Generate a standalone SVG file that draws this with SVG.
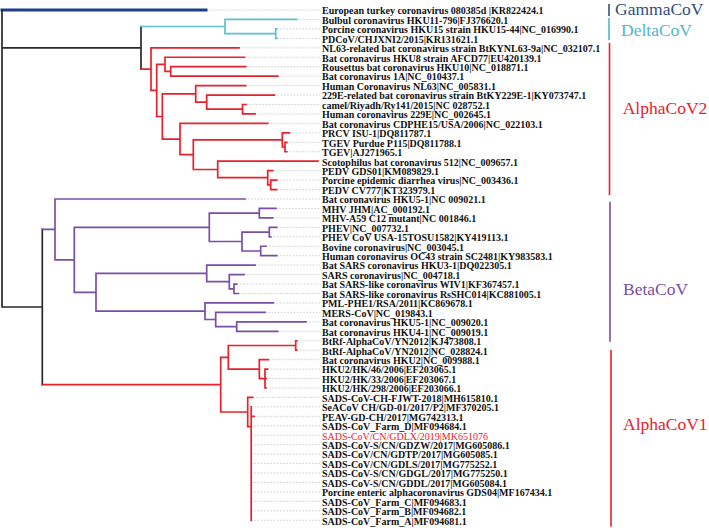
<svg xmlns="http://www.w3.org/2000/svg" width="709" height="528" viewBox="0 0 709 528">
<style>
.br{fill:none;stroke-width:1.7;stroke-linecap:square}
.blk{stroke:#2a2a2a}
.nav{stroke:#1f3d8c;stroke-width:3}
.cy{stroke:#5cc0d2}
.rd{stroke:#e8212c}
.pu{stroke:#7b4ea6}
.ld{fill:none;stroke:#c4c4c4;stroke-width:0.8;stroke-dasharray:1.6 1.6}
.lb{font-family:"Liberation Serif","Times New Roman",serif;font-size:10px;font-weight:bold;fill:#111}
.lbr{font-family:"Liberation Serif","Times New Roman",serif;font-size:10px;fill:#e8212c}
.cl{font-family:"Liberation Serif","Times New Roman",serif;font-size:17.5px}
.bar{stroke-width:1.6;fill:none}
</style>
<rect width="709" height="528" fill="#fff"/>
<g id="connectors">
<path class="ld" d="M206,10H320M296.7,19.45H320M276.7,28.9H320M276.7,38.35H320M239,47.8H320M244.3,57.25H320M245.7,66.7H320M277.7,76.15H320M245.7,85.6H320M274.3,95.05H320M246,104.5H320M255,113.95H320M267.7,123.4H320M289.3,132.85H320M286.7,142.3H320M286.7,151.75H320M272.7,170.65H320M276.7,180.1H320M276.7,189.55H320M245,199H320M276,208.45H320M272.7,217.9H320M276.7,227.35H320M270.7,236.8H320M266,246.25H320M276.7,255.7H320M255,265.15H320M244,274.6H320M236.7,284.05H320M238.3,293.5H320M273.3,302.95H320M265,312.4H320M306,321.85H320M277.7,331.3H320M296.7,340.75H320M296.7,350.2H320M268.3,359.65H320M267.5,369.1H320M266,378.55H320M266,388H320M252.7,397.45H320M251.2,406.9H320M254,416.35H320M251.2,425.8H320M251.2,435.25H320M251.2,444.7H320M251.2,454.15H320M251.2,463.6H320M251.2,473.05H320M251.2,482.5H320M251.2,491.95H320M251.2,501.4H320M251.2,510.85H320M251.2,520.3H320"/>
<path class="br nav" d="M2,10H206"/>
<path class="br blk" d="M2,10V307M2,47.8H141M141,26.5V69.1M2,307H42.3M42.3,229.4V384.7"/>
<path class="br cy" d="M141,26.5H225M225,19.45V33.6M225,19.45H296.7M225,33.6H275.7M275.7,28.9V38.35M275.7,28.9H276.7M275.7,38.35H276.7"/>
<path class="br rd" d="M141,69.1H151M151,47.8V90.4M151,47.8H239M151,90.4H156.7M156.7,64.3V116.5M156.7,64.3H165M165,57.25V71.4M165,57.25H244.3M165,71.4H170.7M170.7,66.7V76.15M170.7,66.7H245.7M170.7,76.15H277.7M156.7,116.5H162.3M162.3,93.9V139.1M162.3,93.9H195.7M195.7,85.6V102.1M195.7,85.6H245.7M195.7,102.1H206.7M206.7,95.05V109.2M206.7,95.05H274.3M206.7,109.2H242.5M242.5,104.5V113.95M242.5,104.5H246M242.5,113.95H255M162.3,139.1H180M180,123.4V154.7M180,123.4H267.7M180,154.7H193.3M193.3,139.9V169.5M193.3,139.9H282.3M282.3,132.85V147M282.3,132.85H289.3M282.3,147H285M285,142.3V151.75M285,142.3H286.7M285,151.75H286.7M193.3,169.5H217.7M217.7,161.2V177.7M217.7,161.2H318M217.7,177.7H267.7M267.7,170.65V184.8M267.7,170.65H272.7M267.7,184.8H270.7M270.7,180.1V189.55M270.7,180.1H276.7M270.7,189.55H276.7"/>
<path class="br pu" d="M42.3,229.4H55M55,199V259.8M55,199H245M55,259.8H74.3M74.3,227.3V292.3M74.3,227.3H209.3M209.3,213.2V241.5M209.3,213.2H259.3M259.3,208.45V217.9M259.3,208.45H276M259.3,217.9H272.7M209.3,241.5H242M242,232.1V251M242,232.1H269.3M269.3,227.35V236.8M269.3,227.35H276.7M269.3,236.8H270.7M242,251H260.7M260.7,246.25V255.7M260.7,246.25H266M260.7,255.7H276.7M74.3,292.3H96M96,273.4V311.2M96,273.4H206.7M206.7,265.15V281.7M206.7,265.15H255M206.7,281.7H229.3M229.3,274.6V288.8M229.3,274.6H244M229.3,288.8H234M234,284.05V293.5M234,284.05H236.7M234,293.5H238.3M96,311.2H205M205,302.95V319.5M205,302.95H273.3M205,319.5H215.7M215.7,312.4V326.6M215.7,312.4H265M215.7,326.6H236.7M236.7,321.85V331.3M236.7,321.85H306M236.7,331.3H277.7"/>
<path class="br rd" d="M42.3,384.7H220.7M220.7,357.3V412M220.7,357.3H228.3M228.3,345.5V369.1M228.3,345.5H295.7M295.7,340.75V350.2M295.7,340.75H296.7M295.7,350.2H296.7M228.3,369.1H259.3M259.3,359.65V378.55M259.3,359.65H268.3M259.3,378.55H265M265,369.1V388M265,369.1H267.5M265,378.55H266M265,388H266M220.7,412H247.7M247.7,397.45V426.7M247.7,397.45H252.7M247.7,426.7H251.2M251.2,406.9V520.3M251.2,416.35H254"/>
</g>
<g id="leaves">
<g id="n1"><text class="lb" x="322" y="14.3">European turkey coronavirus 080385d |KR822424.1</text></g>
<g id="n2"><text class="lb" x="322" y="23.75">Bulbul coronavirus HKU11-796|FJ376620.1</text></g>
<g id="n3"><text class="lb" x="322" y="33.2">Porcine coronavirus HKU15 strain HKU15-44|NC_016990.1</text></g>
<g id="n4"><text class="lb" x="322" y="42.65">PDCoV/CHJXNI2/2015|KR131621.1</text></g>
<g id="n5"><text class="lb" x="322" y="52.1">NL63-related bat coronavirus strain BtKYNL63-9a|NC_032107.1</text></g>
<g id="n6"><text class="lb" x="322" y="61.55">Bat coronavirus HKU8 strain AFCD77|EU420139.1</text></g>
<g id="n7"><text class="lb" x="322" y="71">Rousettus bat coronavirus HKU10|NC_018871.1</text></g>
<g id="n8"><text class="lb" x="322" y="80.45">Bat coronavirus 1A|NC_010437.1</text></g>
<g id="n9"><text class="lb" x="322" y="89.9">Human Coronavirus NL63|NC_005831.1</text></g>
<g id="n10"><text class="lb" x="322" y="99.35">229E-related bat coronavirus strain BtKY229E-1|KY073747.1</text></g>
<g id="n11"><text class="lb" x="322" y="108.8">camel/Riyadh/Ry141/2015|NC 028752.1</text></g>
<g id="n12"><text class="lb" x="322" y="118.25">Human coronavirus 229E|NC_002645.1</text></g>
<g id="n13"><text class="lb" x="322" y="127.7">Bat coronavirus CDPHE15/USA/2006|NC_022103.1</text></g>
<g id="n14"><text class="lb" x="322" y="137.15">PRCV ISU-1|DQ811787.1</text></g>
<g id="n15"><text class="lb" x="322" y="146.6">TGEV Purdue P115|DQ811788.1</text></g>
<g id="n16"><text class="lb" x="322" y="156.05">TGEV|AJ271965.1</text></g>
<g id="n17"><text class="lb" x="322" y="165.5">Scotophilus bat coronavirus 512|NC_009657.1</text></g>
<g id="n18"><text class="lb" x="322" y="174.95">PEDV GDS01|KM089829.1</text></g>
<g id="n19"><text class="lb" x="322" y="184.4">Porcine epidemic diarrhea virus|NC_003436.1</text></g>
<g id="n20"><text class="lb" x="322" y="193.85">PEDV CV777|KT323979.1</text></g>
<g id="n21"><text class="lb" x="322" y="203.3">Bat coronavirus HKU5-1|NC 009021.1</text></g>
<g id="n22"><text class="lb" x="322" y="212.75">MHV JHM|AC_000192.1</text></g>
<g id="n23"><text class="lb" x="322" y="222.2">MHV-A59 C12 mutant|NC 001846.1</text></g>
<g id="n24"><text class="lb" x="322" y="231.65">PHEV|NC_007732.1</text></g>
<g id="n25"><text class="lb" x="322" y="241.1">PHEV CoV USA-15TOSU1582|KY419113.1</text></g>
<g id="n26"><text class="lb" x="322" y="250.55">Bovine coronavirus|NC_003045.1</text></g>
<g id="n27"><text class="lb" x="322" y="260">Human coronavirus OC43 strain SC2481|KY983583.1</text></g>
<g id="n28"><text class="lb" x="322" y="269.45">Bat SARS coronavirus HKU3-1|DQ022305.1</text></g>
<g id="n29"><text class="lb" x="322" y="278.9">SARS coronavirus|NC_004718.1</text></g>
<g id="n30"><text class="lb" x="322" y="288.35">Bat SARS-like coronavirus WIV1|KF367457.1</text></g>
<g id="n31"><text class="lb" x="322" y="297.8">Bat SARS-like coronavirus RsSHC014|KC881005.1</text></g>
<g id="n32"><text class="lb" x="322" y="307.25">PML-PHE1/RSA/2011|KC869678.1</text></g>
<g id="n33"><text class="lb" x="322" y="316.7">MERS-CoV|NC_019843.1</text></g>
<g id="n34"><text class="lb" x="322" y="326.15">Bat coronavirus HKU5-1|NC_009020.1</text></g>
<g id="n35"><text class="lb" x="322" y="335.6">Bat coronavirus HKU4-1|NC_009019.1</text></g>
<g id="n36"><text class="lb" x="322" y="345.05">BtRf-AlphaCoV/YN2012|KJ473808.1</text></g>
<g id="n37"><text class="lb" x="322" y="354.5">BtRf-AlphaCoV/YN2012|NC_028824.1</text></g>
<g id="n38"><text class="lb" x="322" y="363.95">Bat coronavirus HKU2|NC_009988.1</text></g>
<g id="n39"><text class="lb" x="322" y="373.4">HKU2/HK/46/2006|EF203065.1</text></g>
<g id="n40"><text class="lb" x="322" y="382.85">HKU2/HK/33/2006|EF203067.1</text></g>
<g id="n41"><text class="lb" x="322" y="392.3">HKU2/HK/298/2006|EF203066.1</text></g>
<g id="n42"><text class="lb" x="322" y="401.75">SADS-CoV-CH-FJWT-2018|MH615810.1</text></g>
<g id="n43"><text class="lb" x="322" y="411.2">SeACoV CH/GD-01/2017/P2|MF370205.1</text></g>
<g id="n44"><text class="lb" x="322" y="420.65">PEAV-GD-CH/2017|MG742313.1</text></g>
<g id="n45"><text class="lb" x="322" y="430.1">SADS-CoV_Farm_D|MF094684.1</text></g>
<g id="n46"><text class="lbr" x="322" y="439.55">SADS-CoV/CN/GDLX/2019|MK651076</text></g>
<g id="n47"><text class="lb" x="322" y="449">SADS-CoV-S/CN/GDZW/2017|MG605086.1</text></g>
<g id="n48"><text class="lb" x="322" y="458.45">SADS-CoV/CN/GDTP/2017|MG605085.1</text></g>
<g id="n49"><text class="lb" x="322" y="467.9">SADS-CoV/CN/GDLS/2017|MG775252.1</text></g>
<g id="n50"><text class="lb" x="322" y="477.35">SADS-CoV-S/CN/GDGL/2017|MG775250.1</text></g>
<g id="n51"><text class="lb" x="322" y="486.8">SADS-CoV-S/CN/GDDL/2017|MG605084.1</text></g>
<g id="n52"><text class="lb" x="322" y="496.25">Porcine enteric alphacoronavirus GDS04|MF167434.1</text></g>
<g id="n53"><text class="lb" x="322" y="505.7">SADS-CoV_Farm_C|MF094683.1</text></g>
<g id="n54"><text class="lb" x="322" y="515.15">SADS-CoV_Farm_B|MF094682.1</text></g>
<g id="n55"><text class="lb" x="322" y="524.6">SADS-CoV_Farm_A|MF094681.1</text></g>
</g>
<g id="clade-gamma"><path class="bar" stroke="#2f4f7f" d="M609,4V16"/><text class="cl" x="615" y="15" fill="#2f4f7f">GammaCoV</text></g>
<g id="clade-delta"><path class="bar" stroke="#4fb6cc" d="M609,18V40"/><text class="cl" x="621" y="36" fill="#4fb6cc">DeltaCoV</text></g>
<g id="clade-alpha2"><path class="bar" stroke="#e8212c" d="M609.5,43V195"/><text class="cl" x="622.7" y="114" fill="#e8212c">AlphaCoV2</text></g>
<g id="clade-beta"><path class="bar" stroke="#7b4ea6" d="M610,201.7V341.7"/><text class="cl" x="623" y="295" fill="#7b4ea6">BetaCoV</text></g>
<g id="clade-alpha1"><path class="bar" stroke="#e8212c" d="M611,350V526.7"/><text class="cl" x="623" y="430" fill="#e8212c">AlphaCoV1</text></g>
</svg>
